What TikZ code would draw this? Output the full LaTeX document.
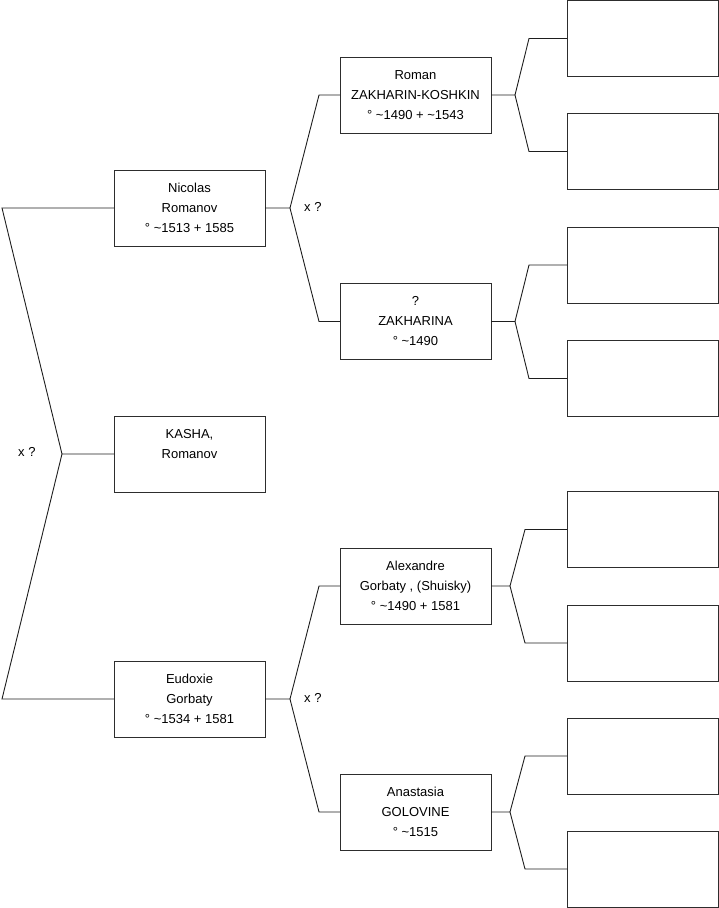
\documentclass[tikz,border=0pt]{standalone}
\usepackage{fontspec}
\setmainfont{Liberation Sans}
\usepackage{tikz}
\usetikzlibrary{positioning, calc}
\definecolor{boxline}{RGB}{45,45,45}
\definecolor{linkline}{RGB}{30,30,30}

\tikzset{
  person/.style={draw=boxline, line width=0.9pt, minimum width=151pt, minimum height=76pt,
    inner sep=0pt, outer sep=0pt, align=center, font=\fontsize{13}{20}\selectfont},
  link/.style={draw=linkline, line width=0.9pt},
  union/.style={anchor=west, inner sep=0pt, font=\fontsize{13}{15}\selectfont},
}

\begin{document}
\begin{tikzpicture}[x=1pt, y=-1pt]
\useasboundingbox (0,0) rectangle (719,908);
% generation 1
\node[person] (kasha) at (189.5,454) {KASHA,\\Romanov\\\phantom{0}};
% generation 2
\node[person] (nicolas) at (189.5,208) {Nicolas\\Romanov\\° \textasciitilde1513 + 1585};
\node[person] (eudoxie) at (189.5,699) {Eudoxie\\Gorbaty\\° \textasciitilde1534 + 1581};
% generation 3
\node[person] (roman) at (415.5,95) {Roman\\ZAKHARIN-KOSHKIN\\° \textasciitilde1490 + \textasciitilde1543};
\node[person] (zakharina) at (415.5,321.5) {?\\ZAKHARINA\\° \textasciitilde1490};
\node[person] (alexandre) at (415.5,586) {Alexandre\\Gorbaty , (Shuisky)\\° \textasciitilde1490 + 1581};
\node[person] (anastasia) at (415.5,812) {Anastasia\\GOLOVINE\\° \textasciitilde1515};

% root fork
\coordinate (f0) at (62,454);
\coordinate (c0) at (2,0);
\draw[link] (kasha.west) -- (f0) -- (nicolas.west -| c0) -- (nicolas.west);
\draw[link] (f0) -- (eudoxie.west -| c0) -- (eudoxie.west);
\node[union] (u0) at (18,452) {x ?};

% parents of generation 2
\coordinate (c1) at (319,0);
\foreach \p/\a/\b in {nicolas/roman/zakharina, eudoxie/alexandre/anastasia} {
  \coordinate (\p-x) at ($(\p.east)+(25,0)$);
  \draw[link] (\p.east) -- (\p-x) -- (\a.west -| c1) -- (\a.west);
  \draw[link] (\p-x) -- (\b.west -| c1) -- (\b.west);
  \node[union] (\p-u) at ($(\p-x)+(14,-1)$) {x ?};
}

% generation 4 (empty)
\foreach \p/\ya/\yb/\fx/\cx in {roman/38.5/151.5/515/529, zakharina/265/378.5/515/529,
    alexandre/529.5/643/510/525, anastasia/756/869/510/525} {
  \node[person] (\p-f) at (642.5,\ya) {};
  \node[person] (\p-m) at (642.5,\yb) {};
  \coordinate (\p-x) at (\fx,0);
  \coordinate (\p-c) at (\cx,0);
  \draw[link] (\p.east) -- (\p.east -| \p-x) -- (\p-f.west -| \p-c) -- (\p-f.west);
  \draw[link] (\p.east -| \p-x) -- (\p-m.west -| \p-c) -- (\p-m.west);
}
\end{tikzpicture}
\end{document}
